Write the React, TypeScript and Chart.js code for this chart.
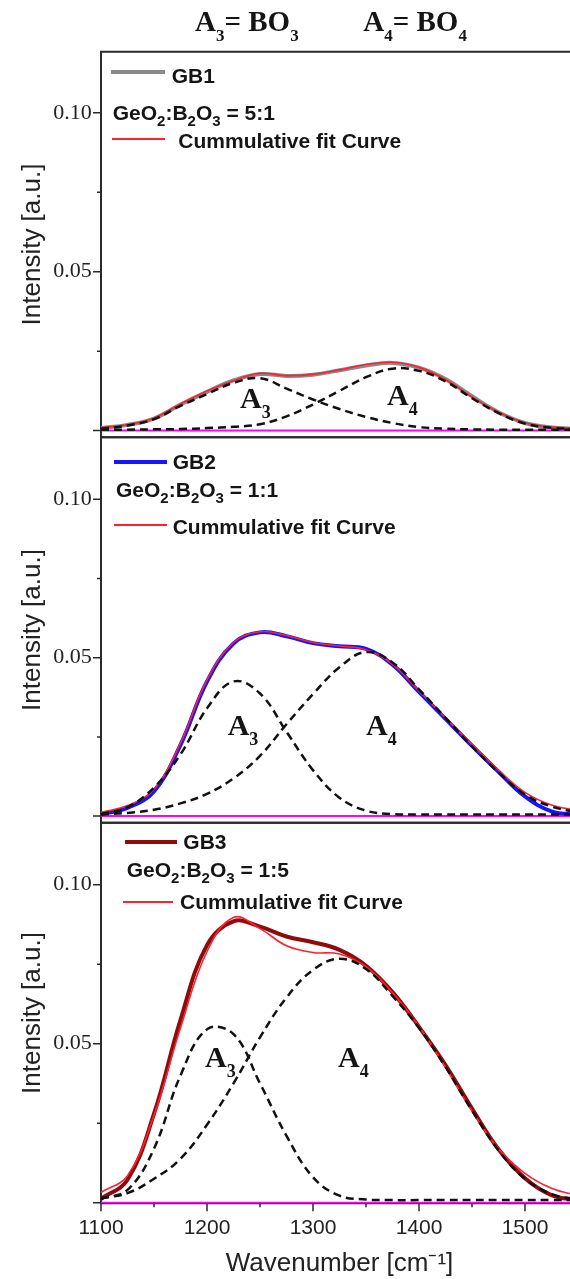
import React, { useEffect, useRef } from "react";
import { Chart, registerables } from "chart.js";

Chart.register(...registerables);

// ---------- data ----------
const WAVENUMBER = [1100, 1125, 1150, 1175, 1200, 1225, 1250, 1275, 1300, 1325, 1350, 1375, 1400, 1425, 1450, 1475, 1500, 1525, 1550];

const GB1_SPECTRUM = [0.0008, 0.0018, 0.0038, 0.0082, 0.0122, 0.0158, 0.0178, 0.0172, 0.0176, 0.0190, 0.0205, 0.0213, 0.0198, 0.0162, 0.0108, 0.0058, 0.0024, 0.0010, 0.0006];
const GB1_FIT = [0.0009, 0.0019, 0.0040, 0.0084, 0.0125, 0.0157, 0.0180, 0.0173, 0.0177, 0.0191, 0.0208, 0.0215, 0.0199, 0.0161, 0.0106, 0.0058, 0.0025, 0.0011, 0.0007];
const GB1_A3 = [0.0006, 0.0016, 0.0036, 0.0078, 0.0115, 0.0150, 0.0165, 0.0132, 0.0098, 0.0068, 0.0043, 0.0024, 0.0011, 0.0006, 0.0004, 0.0003, 0.0003, 0.0003, 0.0003];
const GB1_A4 = [0.0003, 0.0003, 0.0004, 0.0005, 0.0008, 0.0012, 0.0020, 0.0045, 0.0082, 0.0125, 0.0168, 0.0195, 0.0188, 0.0155, 0.0102, 0.0055, 0.0022, 0.0009, 0.0005];

const GB2_SPECTRUM = [0.0006, 0.0026, 0.0078, 0.0225, 0.0425, 0.0545, 0.0580, 0.0568, 0.0546, 0.0536, 0.0528, 0.0478, 0.0392, 0.0307, 0.0222, 0.0140, 0.0062, 0.0015, 0.0005];
const GB2_FIT = [0.0012, 0.0033, 0.0085, 0.0230, 0.0430, 0.0548, 0.0582, 0.0570, 0.0548, 0.0537, 0.0525, 0.0480, 0.0395, 0.0310, 0.0226, 0.0145, 0.0075, 0.0035, 0.0017];
const GB2_A3 = [0.0006, 0.0028, 0.0090, 0.0195, 0.0340, 0.0425, 0.0387, 0.0266, 0.0145, 0.0058, 0.0017, 0.0006, 0.0005, 0.0005, 0.0005, 0.0005, 0.0005, 0.0005, 0.0005];
const GB2_A4 = [0.0005, 0.0010, 0.0020, 0.0040, 0.0070, 0.0119, 0.0190, 0.0290, 0.0385, 0.0470, 0.0518, 0.0485, 0.0400, 0.0310, 0.0220, 0.0138, 0.0068, 0.0030, 0.0012];

const GB3_SPECTRUM = [0.0012, 0.0072, 0.0280, 0.0575, 0.0810, 0.0885, 0.0868, 0.0837, 0.0819, 0.0795, 0.0745, 0.0662, 0.0553, 0.0433, 0.0296, 0.0168, 0.0077, 0.0024, 0.0008];
const GB3_FIT = [0.0032, 0.0085, 0.0275, 0.0550, 0.0790, 0.0897, 0.0862, 0.0808, 0.0787, 0.0782, 0.0742, 0.0660, 0.0555, 0.0425, 0.0288, 0.0170, 0.0092, 0.0045, 0.0022];
const GB3_A3 = [0.0012, 0.0040, 0.0170, 0.0400, 0.0545, 0.0530, 0.0375, 0.0210, 0.0080, 0.0022, 0.0010, 0.0008, 0.0008, 0.0008, 0.0008, 0.0008, 0.0008, 0.0008, 0.0008];
const GB3_A4 = [0.0014, 0.0030, 0.0075, 0.0138, 0.0245, 0.0375, 0.0520, 0.0645, 0.0732, 0.0767, 0.0735, 0.0650, 0.0550, 0.0427, 0.0290, 0.0165, 0.0075, 0.0027, 0.0010];

const BASELINE_X = [1100, 1550];
const BASELINE_Y = [0, 0];

const X_MAJOR_TICKS = [1100, 1200, 1300, 1400, 1500];
const X_MINOR_TICKS = [1150, 1250, 1350, 1450, 1550];
const Y_MAJOR_TICKS = [0, 0.05, 0.1];
const Y_MINOR_TICKS = [0.025, 0.075];

const X_MIN = 1100;
const X_MAX = 1550;

// ---------- style ----------
const PAGE_W = 578;
const PAGE_H = 1279;
const AXIS_LEFT = 101;
const SANS = '"Liberation Sans", Arial, Helvetica, sans-serif';
const SERIF = '"Liberation Serif", "Times New Roman", Times, serif';
const RED = "#ff2030";
const TEXT = "#151515";

type Panel = {
  key: string;
  top: number;
  bottom: number;
  yMin: number;
  yMax: number;
  main: number[];
  fit: number[];
  a3: number[];
  a4: number[];
  color: string;
  showX: boolean;
};

const PANELS: Panel[] = [
  { key: "GB1", top: 51.7, bottom: 437.3, yMin: -0.0021, yMax: 0.1192, main: GB1_SPECTRUM, fit: GB1_FIT, a3: GB1_A3, a4: GB1_A4, color: "#8a8a8a", showX: false },
  { key: "GB2", top: 437.3, bottom: 822.7, yMin: -0.0021, yMax: 0.1196, main: GB2_SPECTRUM, fit: GB2_FIT, a3: GB2_A3, a4: GB2_A4, color: "#1414ff", showX: false },
  { key: "GB3", top: 822.7, bottom: 1203.3, yMin: -0.0002, yMax: 0.1195, main: GB3_SPECTRUM, fit: GB3_FIT, a3: GB3_A3, a4: GB3_A4, color: "#8e0c0c", showX: true },
];

const toPoints = (ys: number[]) => WAVENUMBER.map((x, i) => ({ x, y: ys[i] }));

const frameTicks = {
  id: "frameTicks",
  beforeDatasetsDraw(chart: any, _args: any, opts: any) {
    const { ctx, chartArea } = chart;
    const { left, right, top, bottom } = chartArea;
    const x = chart.scales.x;
    const y = chart.scales.y;
    ctx.save();
    ctx.strokeStyle = "#2a2a2a";
    ctx.lineWidth = 2;
    ctx.beginPath();
    ctx.moveTo(right + 10, top);
    ctx.lineTo(left, top);
    ctx.lineTo(left, bottom);
    ctx.lineTo(right + 10, bottom);
    ctx.stroke();
    ctx.lineWidth = 1.5;
    ctx.beginPath();
    for (const v of Y_MAJOR_TICKS) {
      const p = y.getPixelForValue(v);
      ctx.moveTo(left - 8, p);
      ctx.lineTo(left, p);
    }
    for (const v of Y_MINOR_TICKS) {
      const p = y.getPixelForValue(v);
      ctx.moveTo(left - 4, p);
      ctx.lineTo(left, p);
    }
    if (opts && opts.xTicks) {
      for (const v of X_MAJOR_TICKS) {
        const p = x.getPixelForValue(v);
        ctx.moveTo(p, bottom);
        ctx.lineTo(p, bottom + 8);
      }
      for (const v of X_MINOR_TICKS) {
        const p = x.getPixelForValue(v);
        ctx.moveTo(p, bottom);
        ctx.lineTo(p, bottom + 4);
      }
    }
    ctx.stroke();
    ctx.restore();
  },
};

function PanelChart({ panel }: { panel: Panel }) {
  const ref = useRef<HTMLCanvasElement>(null);
  useEffect(() => {
    if (!ref.current) return;
    const line = (ys: number[], color: string, width: number, order: number, dash: number[] = []) => ({
      data: toPoints(ys),
      borderColor: color,
      borderWidth: width,
      borderDash: dash,
      pointRadius: 0,
      fill: false,
      tension: 0.4,
      order,
    });
    const xScale: any = {
      type: "linear",
      min: X_MIN,
      max: X_MAX,
      display: panel.showX,
      afterBuildTicks: (s: any) => {
        s.ticks = X_MAJOR_TICKS.map((v) => ({ value: v }));
      },
      grid: { display: false, drawTicks: false },
      border: { display: false },
      ticks: {
        padding: 12,
        autoSkip: false,
        maxRotation: 0,
        color: "#222",
        font: { family: SANS, size: 21 },
        callback: (v: any) => String(v),
      },
      title: {
        display: true,
        text: "Wavenumber [cm\u207B\u00B9]",
        color: "#222",
        font: { family: SANS, size: 26 },
        padding: { top: 0, bottom: 0 },
      },
    };
    if (panel.showX) {
      xScale.afterFit = (s: any) => {
        s.height = PAGE_H - panel.bottom;
      };
    }
    const chart = new Chart(ref.current, {
      type: "line",
      data: {
        datasets: [
          line(panel.a3, "#111111", 2.5, 1, [8, 5]),
          line(panel.a4, "#111111", 2.5, 1, [8, 5]),
          line(panel.fit, RED, 1.6, 2),
          line(panel.main, panel.color, 4, 3),
          {
            data: BASELINE_X.map((x, i) => ({ x, y: BASELINE_Y[i] })),
            borderColor: "#ff00ff",
            borderWidth: 2,
            pointRadius: 0,
            fill: false,
            order: 4,
          },
        ],
      },
      options: {
        animation: false,
        responsive: false,
        maintainAspectRatio: false,
        events: [],
        layout: {
          padding: { top: panel.top, bottom: panel.showX ? 0 : PAGE_H - panel.bottom, left: 0, right: 0 },
        },
        plugins: {
          legend: { display: false },
          tooltip: { enabled: false },
          frameTicks: { xTicks: panel.showX },
        } as any,
        scales: {
          x: xScale,
          y: {
            type: "linear",
            min: panel.yMin,
            max: panel.yMax,
            afterFit: (s: any) => {
              s.width = AXIS_LEFT;
            },
            afterBuildTicks: (s: any) => {
              s.ticks = Y_MAJOR_TICKS.map((v) => ({ value: v }));
            },
            grid: { display: false, drawTicks: false },
            border: { display: false },
            ticks: {
              padding: 9.3,
              color: "#222",
              font: { family: SERIF, size: 22 },
              callback: (v: any) => (Number(v) === 0 ? "" : Number(v).toFixed(2)),
            },
            title: {
              display: true,
              text: "Intensity [a.u.]",
              color: "#222",
              font: { family: SANS, size: 26 },
              padding: { top: 17, bottom: 0 },
            },
          },
        },
      },
      plugins: [frameTicks],
    } as any);
    return () => chart.destroy();
  }, [panel]);
  return (
    <canvas
      ref={ref}
      width={PAGE_W}
      height={PAGE_H}
      style={{ position: "absolute", left: 0, top: 0, width: PAGE_W, height: PAGE_H }}
    />
  );
}

// ---------- overlay text ----------
function Txt({ left, baseline, size, family, bold = true, children }: any) {
  const ratio = family === SERIF ? 0.8375 : 0.8465;
  return (
    <div
      style={{
        position: "absolute",
        left,
        top: baseline - ratio * size,
        fontFamily: family,
        fontSize: size,
        fontWeight: bold ? 700 : 400,
        lineHeight: `${size}px`,
        whiteSpace: "nowrap",
        color: TEXT,
      }}
    >
      {children}
    </div>
  );
}

function Sub({ size, shift, children }: any) {
  return <span style={{ fontSize: size, position: "relative", top: shift, lineHeight: 0 }}>{children}</span>;
}

function Swatch({ x1, x2, y, h, color }: any) {
  return <div style={{ position: "absolute", left: x1, top: y - h / 2, width: x2 - x1, height: h, background: color }} />;
}

function Ratio({ left, baseline, ratio }: any) {
  return (
    <Txt left={left} baseline={baseline} size={21} family={SANS}>
      GeO<Sub size={15} shift={6}>2</Sub>:B<Sub size={15} shift={6}>2</Sub>O<Sub size={15} shift={6}>3</Sub> = {ratio}
    </Txt>
  );
}

function PeakLabel({ left, baseline, n }: any) {
  return (
    <Txt left={left} baseline={baseline} size={30} family={SERIF}>
      A<Sub size={18} shift={10}>{n}</Sub>
    </Txt>
  );
}

export default function App() {
  return (
    <div
      style={{
        position: "absolute",
        left: 0,
        top: 0,
        width: 570,
        height: PAGE_H,
        overflow: "hidden",
        background: "#ffffff",
      }}
    >
      {PANELS.map((p) => (
        <PanelChart key={p.key} panel={p} />
      ))}

      {/* header */}
      <Txt left={195} baseline={31.7} size={29} family={SERIF}>
        A<Sub size={17} shift={10}>3</Sub>= BO<Sub size={17} shift={10}>3</Sub>
      </Txt>
      <Txt left={363.3} baseline={31.7} size={29} family={SERIF}>
        A<Sub size={17} shift={10}>4</Sub>= BO<Sub size={17} shift={10}>4</Sub>
      </Txt>

      {/* panel 1 legend */}
      <Swatch x1={110.7} x2={165} y={72.3} h={4} color="#8a8a8a" />
      <Txt left={171.7} baseline={82.5} size={21} family={SANS}>GB1</Txt>
      <Ratio left={112.7} baseline={120} ratio="5:1" />
      <Swatch x1={111.7} x2={165} y={139} h={2} color={RED} />
      <Txt left={178.3} baseline={147.5} size={21} family={SANS}>Cummulative fit Curve</Txt>
      <PeakLabel left={240} baseline={408} n="3" />
      <PeakLabel left={387} baseline={405} n="4" />

      {/* panel 2 legend */}
      <Swatch x1={114} x2={166.7} y={461.7} h={4} color="#1414ff" />
      <Txt left={172.7} baseline={469.2} size={21} family={SANS}>GB2</Txt>
      <Ratio left={116} baseline={497.2} ratio="1:1" />
      <Swatch x1={114} x2={166.7} y={525} h={2} color={RED} />
      <Txt left={172.7} baseline={533.5} size={21} family={SANS}>Cummulative fit Curve</Txt>
      <PeakLabel left={227.7} baseline={735} n="3" />
      <PeakLabel left={366} baseline={735} n="4" />

      {/* panel 3 legend */}
      <Swatch x1={125} x2={176.7} y={841.7} h={4} color="#8e0c0c" />
      <Txt left={183.3} baseline={849.2} size={21} family={SANS}>GB3</Txt>
      <Ratio left={126.7} baseline={876.5} ratio="1:5" />
      <Swatch x1={123.3} x2={173.3} y={901.7} h={2} color={RED} />
      <Txt left={180} baseline={909.2} size={21} family={SANS}>Cummulative fit Curve</Txt>
      <PeakLabel left={205} baseline={1066.7} n="3" />
      <PeakLabel left={338} baseline={1067} n="4" />
    </div>
  );
}
